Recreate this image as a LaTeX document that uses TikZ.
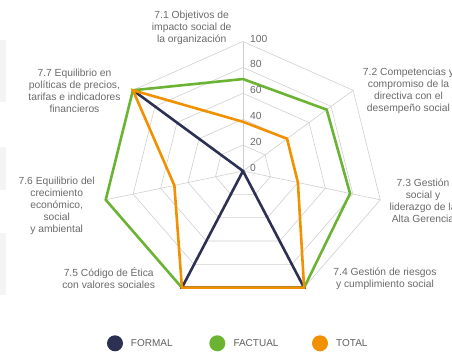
\documentclass[tikz,border=0pt]{standalone}
\usepackage{fontspec}
\setmainfont{Liberation Sans}
\definecolor{formal}{HTML}{2C3153}
\definecolor{factual}{HTML}{6BB433}
\definecolor{total}{HTML}{F29100}
\definecolor{rejilla}{HTML}{CFCFCF}
\definecolor{texto}{HTML}{6A6A6A}
\definecolor{banda}{HTML}{F4F4F4}
\begin{document}
\begin{tikzpicture}[x=1pt,y=-1pt]

\tikzset{rejillalinea/.style={rejilla,line width=0.6pt},}
\tikzset{serie/.style={line width=2.6pt,line join=miter},}
\tikzset{etiqueta/.style={align=center,inner sep=0pt,text=texto,font=\fontsize{10.3}{12}\selectfont},}
\tikzset{escala/.style={anchor=west,inner sep=0pt,text=texto,font=\fontsize{10.3}{12}\selectfont},}
\tikzset{punto/.style={circle,minimum size=16pt,inner sep=0pt},}
\tikzset{leyenda/.style={anchor=west,inner sep=0pt,text=texto!90!black,font=\fontsize{10}{12}\selectfont},}

\useasboundingbox (0,0) rectangle (452,351);

%BANDAS
\fill[banda] (0,40) rectangle (6,102);
\fill[banda] (0,147) rectangle (6,190);
\fill[banda] (0,233) rectangle (6,295);

%RADAR
\begin{scope}[shift={(243,171)},x=1.408pt,y=1.295pt]
\coordinate (centro) at (0,0);
\foreach \i in {1,...,7}
  \coordinate (eje\i) at ({90-(\i-1)*360/7}:100);

\foreach \r in {20,40,60,80,100}
  \draw[rejillalinea] (90:\r) \foreach \k in {1,...,6} { -- ({90-\k*360/7}:\r) } -- cycle;
\foreach \i in {1,...,7}
  \draw[rejillalinea] (centro) -- (eje\i);

\foreach \v [count=\i] in {71,76,78,100,100,100,100}
  \coordinate (fac\i) at ({90-(\i-1)*360/7}:\v);
\foreach \v [count=\i] in {0,0,0,100,100,0,100}
  \coordinate (for\i) at ({90-(\i-1)*360/7}:\v);
\foreach \v [count=\i] in {38,40,40,100,100,50,100}
  \coordinate (tot\i) at ({90-(\i-1)*360/7}:\v);

\draw[serie,factual] (fac1) -- (fac2) -- (fac3) -- (fac4) -- (fac5) -- (fac6) -- (fac7) -- cycle;
\draw[serie,formal] (for1) -- (for2) -- (for3) -- (for4) -- (for5) -- (for6) -- (for7) -- cycle;
\draw[serie,total] (tot1) -- (tot2) -- (tot3) -- (tot4) -- (tot5) -- (tot6) -- (tot7) -- cycle;
\end{scope}

%ESCALA
\foreach \v in {0,20,...,100}
  \node[escala] (marca\v) at (250,{168-1.295*\v}) {\v};

%ETIQUETAS
\node[etiqueta] (ej71) at (191.7,27.5) {7.1 Objetivos de\\impacto social de\\la organización};
\node[etiqueta] (ej72) at (408.5,90.5) {7.2 Competencias y\\compromiso de la\\directiva con el\\desempeño social};
\node[etiqueta] (ej73) at (423,200.5) {7.3 Gestión\\social y\\liderazgo de la\\Alta Gerencia};
\node[etiqueta] (ej74) at (385,278.5) {7.4 Gestión de riesgos\\y cumplimiento social};
\node[etiqueta] (ej75) at (108.7,278.5) {7.5 Código de Ética\\con valores sociales};
\node[etiqueta] (ej76) at (56.7,206.2) {7.6 Equilibrio del\\crecimiento\\económico,\\social\\y ambiental};
\node[etiqueta] (ej77) at (74.5,90.5) {7.7 Equilibrio en\\políticas de precios,\\tarifas e indicadores\\financieros};

%LEYENDA
\node[punto,fill=formal] (pformal) at (115,343.3) {};
\node[leyenda] (lformal) at (130.7,343.3) {FORMAL};
\node[punto,fill=factual] (pfactual) at (217.3,343.3) {};
\node[leyenda] (lfactual) at (233.3,343.3) {FACTUAL};
\node[punto,fill=total] (ptotal) at (320,343.3) {};
\node[leyenda] (ltotal) at (336,343.3) {TOTAL};

\end{tikzpicture}
\end{document}
